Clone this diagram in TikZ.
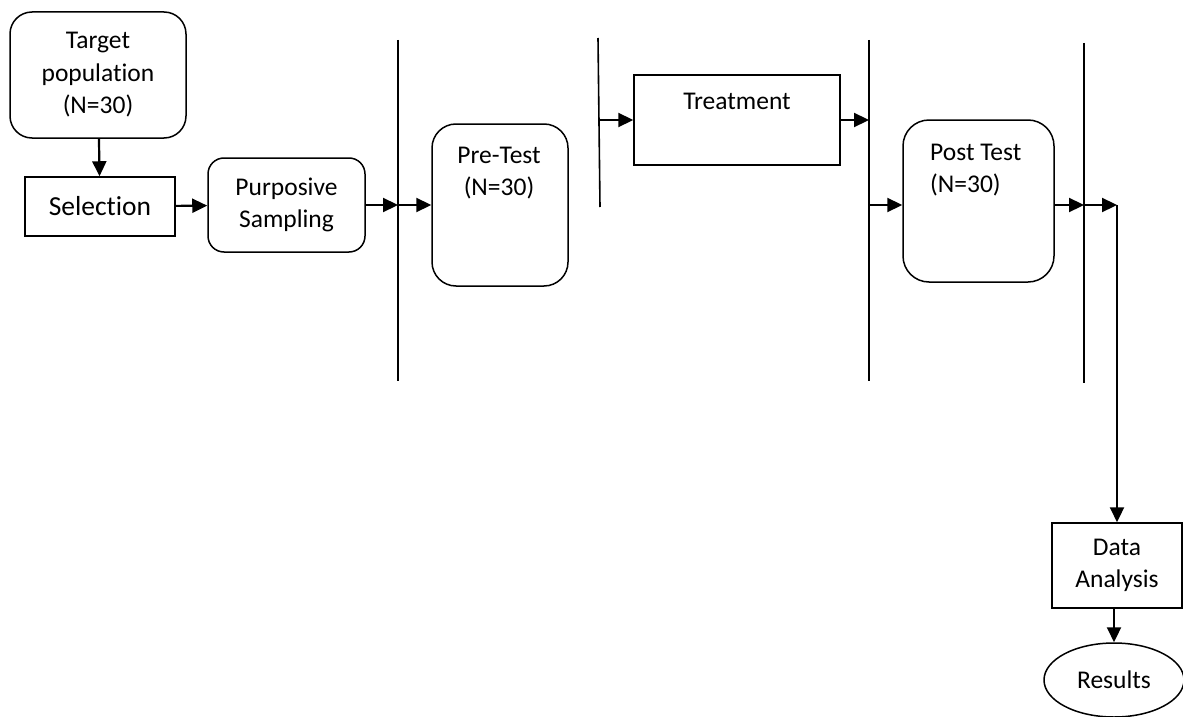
\documentclass[tikz,border=0pt]{standalone}
\usepackage{fontspec}
\setmainfont{Carlito}[Ligatures={NoCommon}]
\usetikzlibrary{arrows.meta,shapes.geometric}
\newcommand{\fs}{\fontsize{25.5}{32.5}\selectfont}
\tikzset{
  rbox/.style={draw, line width=1.5pt, rounded corners=22pt, inner sep=0pt},
  sbox/.style={draw, line width=1.5pt, inner sep=0pt},
  arr/.style={line width=2.2pt, -{Triangle[length=15pt,width=14pt]}},
  bar/.style={line width=1.6pt},
  txt/.style={align=center, font=\fs, inner sep=0pt}
}
\begin{document}
\begin{tikzpicture}[x=1pt,y=-1pt]
\useasboundingbox (0,0) rectangle (1183,717);
% nodes
\node[rbox, minimum width=176pt, minimum height=126pt, txt] (target) at (98,75) {Target\\population\\(N=30)};
\node[sbox, minimum width=150pt, minimum height=59pt, txt, font=\fontsize{27.5}{32}\selectfont] (sel) at (100,206.5) {Selection};
\node[rbox, rounded corners=16pt, minimum width=157pt, minimum height=94pt, txt] (purp) at (286.5,205) {Purposive\\Sampling};
\node[rbox, rounded corners=24pt, minimum width=136pt, minimum height=162pt] (pre) at (500,205) {};
\node[txt] (pretxt) at (499,173) {Pre-Test\\(N=30)};
\node[sbox, minimum width=206pt, minimum height=90pt] (treat) at (737,120) {};
\node[txt] (treattxt) at (737,101) {Treatment};
\node[rbox, rounded corners=26pt, minimum width=151pt, minimum height=162pt] (post) at (978.5,201) {};
\node[txt, align=left, anchor=west] (posttxt) at (930,170) {Post Test\\(N=30)};
\node[sbox, minimum width=130pt, minimum height=85pt, txt] (data) at (1117,565.5) {Data\\Analysis};
\node[ellipse, draw, line width=1.5pt, minimum width=140pt, minimum height=74pt, inner sep=0pt, txt] (res) at (1114,680) {Results};
% bars
\coordinate (b1t) at (398,40);  \coordinate (b1b) at (398,381);
\coordinate (b2t) at (598,38);  \coordinate (b2b) at (600,207);
\coordinate (b3t) at (869,40);  \coordinate (b3b) at (869,381);
\coordinate (b4t) at (1084,43); \coordinate (b4b) at (1084,383);
\draw[bar] (b1t) -- (b1b);
\draw[bar] (b2t) -- (b2b);
\draw[bar] (b3t) -- (b3b);
\draw[bar] (b4t) -- (b4b);
% points on bars
\coordinate (b1a) at (398,205);
\coordinate (b2a) at (599.5,120);
\coordinate (b3a) at (869,120);
\coordinate (b3c) at (869,205);
\coordinate (b4a) at (1084,205);
\coordinate (turn) at (1117,205);
% connectors
\draw[arr] (target) -- (sel);
\draw[arr] (sel) -- (purp);
\draw[arr] (purp.east |- b1a) -- (b1a);
\draw[arr] (b1a) -- (pre.west |- b1a);
\draw[arr] (b2a) -- (treat.west |- b2a);
\draw[arr] (treat.east |- b3a) -- (b3a);
\draw[arr] (b3c) -- (post.west |- b3c);
\draw[arr] (post.east |- b4a) -- (b4a);
\draw[arr] (b4a) -- (turn);
\draw[arr] (turn) -- (data.north);
\draw[arr] (data.south -| res.north) -- (res.north);
\end{tikzpicture}
\end{document}
